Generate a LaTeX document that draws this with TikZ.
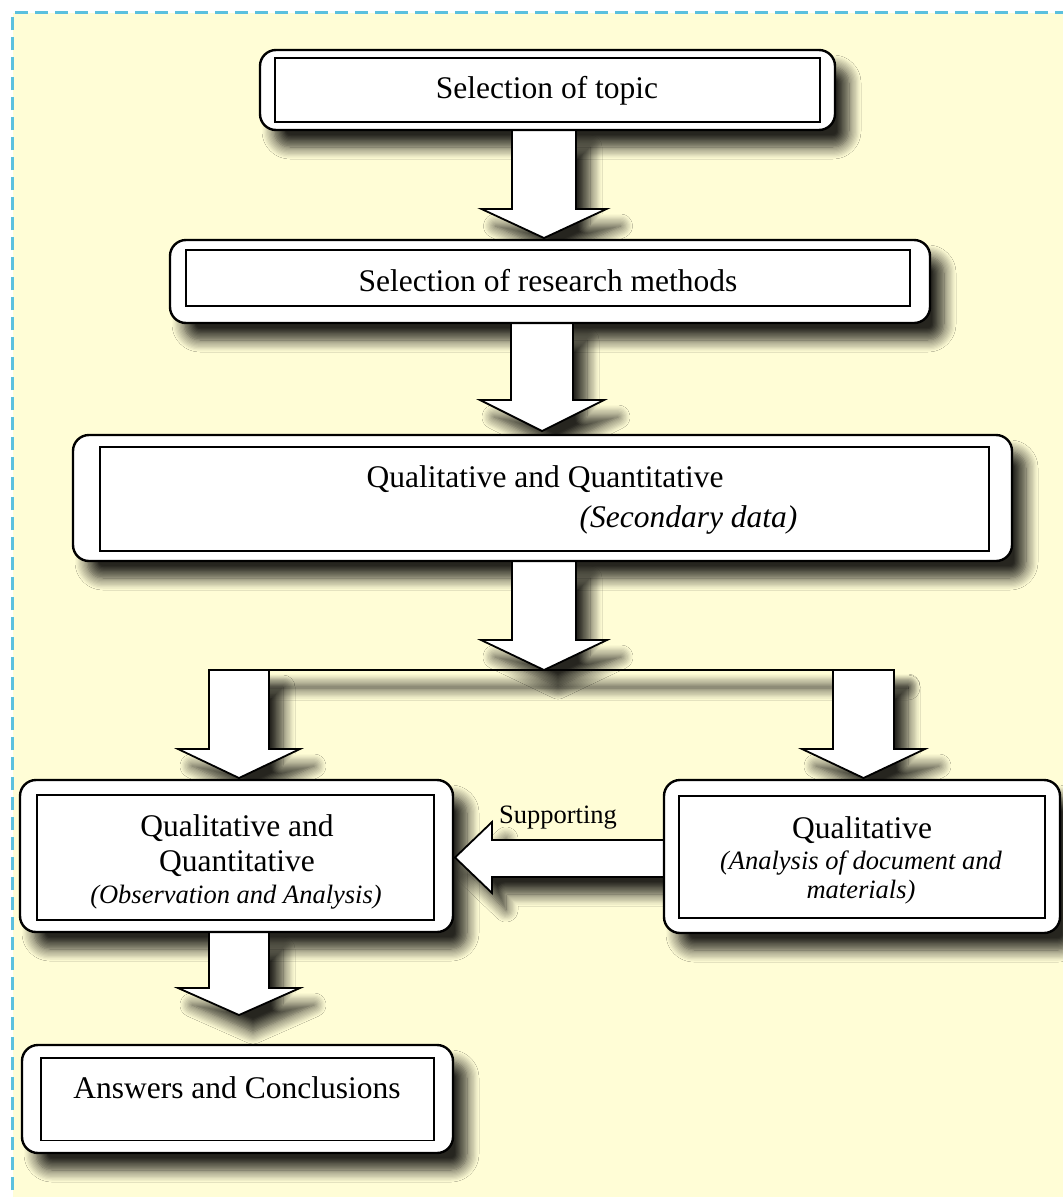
\documentclass[tikz,border=0pt]{standalone}
\usepackage{fontspec}
\setmainfont{Liberation Serif}
\usetikzlibrary{shadows.blur}
\definecolor{bgyellow}{HTML}{FFFDD6}
\definecolor{dashblue}{HTML}{5BC0DE}
\tikzset{
  outerbox/.style={draw=black, line width=2.4pt, rounded corners=16pt, fill=white, inner sep=0pt},
  innerbox/.style={draw=black, line width=1.8pt},
  blockarrow/.style={draw=black, line width=1.8pt, fill=white, line join=miter},
  softshadow/.style={blur shadow={shadow xshift=14pt, shadow yshift=-17pt, shadow blur radius=12pt, shadow blur steps=10, shadow opacity=85}},
  bigtext/.style={font=\fontsize{31.5}{36}\selectfont, inner sep=0pt},
  smalltext/.style={font=\fontsize{26.5}{30}\selectfont\itshape, inner sep=0pt},
  midital/.style={font=\fontsize{31.5}{36}\selectfont\itshape, inner sep=0pt},
  labeltext/.style={font=\fontsize{26.5}{30}\selectfont, inner sep=0pt},
}
% #1 style, #2 centre x, #3 top y, #4 head base y, #5 tip y, #6 shaft half width, #7 head extra
\newcommand\downblock[7]{%
  \path[#1] ({#2-#6},#3) -- ({#2+#6},#3) -- ({#2+#6},#4) -- ({#2+#6+#7},#4) -- (#2,#5)
    -- ({#2-#6-#7},#4) -- ({#2-#6},#4) -- cycle;}
\newcommand\leftblock[1]{%
  \path[#1] (664,840) -- (492,840) -- (492,822) -- (455,857.5) -- (492,893) -- (492,877) -- (664,877) -- cycle;}
\newcommand\allarrows[1]{%
  \downblock{#1}{544}{130}{209}{238}{32}{30.5}
  \downblock{#1}{542}{323}{400}{431}{31}{31}
  \downblock{#1}{544}{561}{640}{670}{32}{31}
  \downblock{#1}{239}{670}{749}{778}{30}{31}
  \downblock{#1}{863.5}{670}{749}{778}{30.5}{31}
  \downblock{#1}{239}{932}{988}{1015}{30}{31}
  \leftblock{#1}}
% outer box frames: x1 y1 x2 y2
\newcommand\allboxframes[1]{%
  \path[#1] (260,50) rectangle (835,130);
  \path[#1] (170,240) rectangle (930,323);
  \path[#1] (73,435) rectangle (1012,561);
  \path[#1] (20,780) rectangle (453,932);
  \path[#1] (664,780) rectangle (1060,933);
  \path[#1] (22,1045) rectangle (453,1153);}
\begin{document}
\begin{tikzpicture}[x=1pt, y=-1pt]
\useasboundingbox (0,0) rectangle (1063,1197);
\begin{scope}
\clip (0,0) rectangle (1063,1197);
\fill[white] (0,0) rectangle (1063,1197);
\fill[bgyellow] (12.5,12.5) rectangle (1100,1250);
\draw[dashblue, line width=3.6pt, dash pattern=on 13pt off 7pt] (12.5,1250) -- (12.5,12.5) -- (1100,12.5);
\end{scope}

% shadows
\allboxframes{softshadow, rounded corners=16pt}
\allarrows{softshadow}
\path[softshadow] (209,669) rectangle (894,671);

% arrows
\allarrows{blockarrow}
\draw[line width=1.8pt] (209,670) coordinate (splitL) -- (894,670) coordinate (splitR);

% boxes
\node[outerbox, minimum width=575pt, minimum height=80pt] (topic) at (547.5,90) {};
\draw[innerbox] (275,58) rectangle (820,122);
\node[bigtext, anchor=base] (topictxt) at (547,98) {Selection of topic};

\node[outerbox, minimum width=760pt, minimum height=83pt] (methods) at (550,281.5) {};
\draw[innerbox] (186,250) rectangle (910,306);
\node[bigtext, anchor=base] (methodstxt) at (548,291.5) {Selection of research methods};

\node[outerbox, minimum width=939pt, minimum height=126pt] (qq) at (542.5,498) {};
\draw[innerbox] (100,447) rectangle (989,551);
\node[bigtext, anchor=base] (qqtxt) at (545,487) {Qualitative and Quantitative};
\node[midital, anchor=base] (qqsub) at (688.5,527) {(Secondary data)};

\node[outerbox, minimum width=433pt, minimum height=152pt] (obs) at (236.5,856) {};
\draw[innerbox] (37,795) rectangle (434,920);
\node[bigtext, anchor=base] (obstxta) at (237,836.5) {Qualitative and};
\node[bigtext, anchor=base] (obstxtb) at (237,871.5) {Quantitative};
\node[smalltext, anchor=base] (obssub) at (236,903) {(Observation and Analysis)};

\node[outerbox, minimum width=396pt, minimum height=153pt] (doc) at (862,856.5) {};
\draw[innerbox] (679,796) rectangle (1045,918);
\node[bigtext, anchor=base] (doctxt) at (862,838) {Qualitative};
\node[smalltext, anchor=base] (docsuba) at (861,869.5) {(Analysis of document and};
\node[smalltext, anchor=base] (docsubb) at (861,898) {materials)};

\node[outerbox, minimum width=431pt, minimum height=108pt] (ans) at (237.5,1099) {};
\draw[innerbox] (41,1058) rectangle (434,1140.5);
\node[bigtext, anchor=base] (anstxt) at (237,1098) {Answers and Conclusions};

\node[labeltext, anchor=base] (suptxt) at (558,823) {Supporting};
\end{tikzpicture}
\end{document}
